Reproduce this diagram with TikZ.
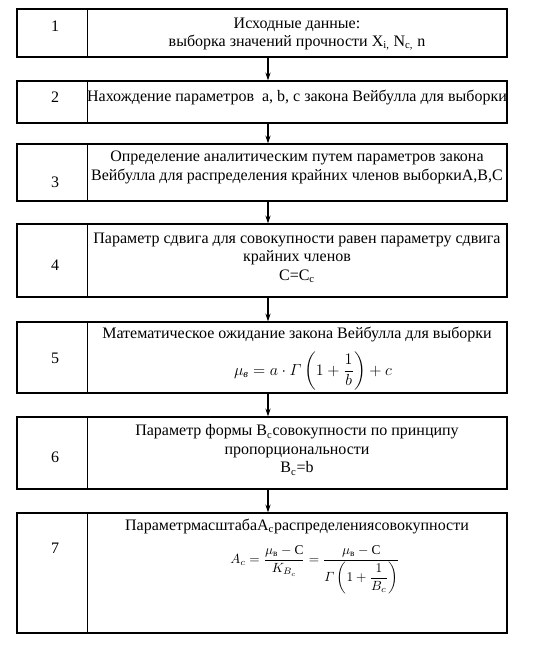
\documentclass[tikz,border=0pt]{standalone}
\usepackage{amsmath}
\usepackage{fontspec}
\setmainfont{Liberation Serif}
\usetikzlibrary{arrows.meta,calc}
\newcommand{\itGamma}{\mathnormal{\Gamma}}
\begin{document}
\begin{tikzpicture}[x=0.75pt,y=-0.75pt,
  box/.style={draw,line width=0.9pt,minimum width=367.5pt,inner sep=0pt},
  divider/.style={line width=0.9pt},
  num/.style={font=\fontsize{12}{14}\selectfont,inner sep=0pt},
  txt/.style={align=center,font=\fontsize{12}{13.8}\selectfont,inner sep=0pt},
  arr/.style={line width=0.8pt,-{Stealth[length=6pt,width=4pt]}}]
\useasboundingbox (0,0) rectangle (555,650);
\coordinate (ax) at (268,0);
% boxes
\node[box,minimum height=36pt]    (b1) at (262,33)    {};
\node[box,minimum height=31.5pt]  (b2) at (262,102)   {};
\node[box,minimum height=42.75pt] (b3) at (262,172.5) {};
\node[box,minimum height=54.75pt] (b4) at (262,260.5) {};
\node[box,minimum height=53.25pt] (b5) at (262,357.5) {};
\node[box,minimum height=54pt]    (b6) at (262,453)   {};
\node[box,minimum height=90pt]    (b7) at (262,573)   {};
% dividers
\foreach \b in {b1,b2,b3,b4,b5,b6,b7}{
  \draw[divider] ([xshift=53.25pt]\b.north west) -- ([xshift=53.25pt]\b.south west);
}
% numbers
\node[num] (n1) at (55,26)  {1};
\node[num] (n2) at (55,97)  {2};
\node[num] (n3) at (55,182) {3};
\node[num] (n4) at (55,265) {4};
\node[num] (n5) at (55,358) {5};
\node[num] (n6) at (55,457) {6};
\node[num] (n7) at (55,548) {7};
% texts
\node[txt] (t1) at (297,34) {Исходные данные:\\выборка значений прочности X\textsubscript{i,} N\textsubscript{c,} n};
\node[txt] (t2) at (297,97) {Нахождение параметров\ \ a, b, c закона Вейбулла для выборки};
\node[txt] (t3) at (297,167.5) {Определение аналитическим путем параметров закона\\Вейбулла для распределения крайних членов выборкиА,В,С};
\node[txt] (t4) at (297,258) {Параметр сдвига для совокупности равен параметру сдвига\\крайних членов\\C=C\textsubscript{c}};
\node[txt] (t5a) at (297,334) {Математическое ожидание закона Вейбулла для выборки};
\node[txt,font=\fontsize{11.5}{13}\selectfont] (t5b) at (313,371) {$\mu_{\text{\itshape в}} = a\cdot \itGamma\left(1+\dfrac{1}{b}\right)+c$};
\node[txt] (t6) at (297,450) {Параметр формы B\textsubscript{c}совокупности по принципу\\пропорциональности\\B\textsubscript{c}=b};
\node[txt] (t7a) at (297,526) {ПараметрмасштабаA\textsubscript{c}распределениясовокупности};
\node[txt,font=\fontsize{10}{12}\selectfont] (t7b) at (315,570) {$A_{c} = \dfrac{\mu_{\text{в}}-\mathrm{C}}{K_{B_c}} = \dfrac{\mu_{\text{в}}-\mathrm{C}}{\itGamma\left(1+\dfrac{1}{B_c}\right)}$};
% arrows
\draw[arr] (b1.south -| ax) -- (b2.north -| ax);
\draw[arr] (b2.south -| ax) -- (b3.north -| ax);
\draw[arr] (b3.south -| ax) -- (b4.north -| ax);
\draw[arr] (b4.south -| ax) -- (b5.north -| ax);
\draw[arr] (b5.south -| ax) -- (b6.north -| ax);
\draw[arr] (b6.south -| ax) -- (b7.north -| ax);
\end{tikzpicture}
\end{document}
